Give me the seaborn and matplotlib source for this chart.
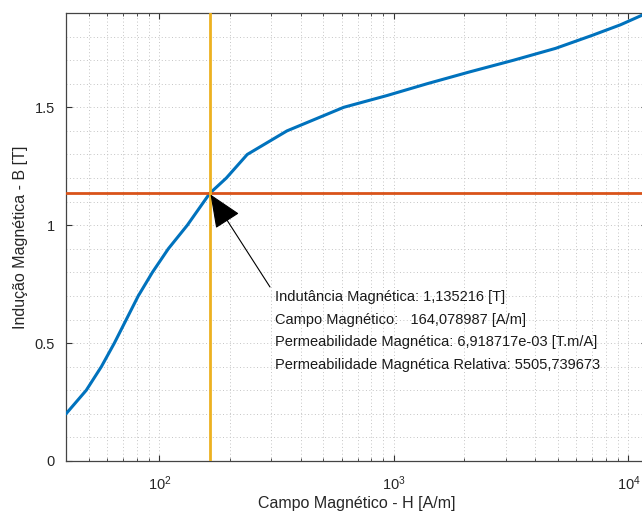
import numpy as np
import pandas as pd
import matplotlib
matplotlib.use("Agg")
import matplotlib.pyplot as plt
import seaborn as sns
from matplotlib.ticker import LogLocator, MultipleLocator, FixedLocator, NullFormatter

# ---- data ----
H_values = [40, 48.8, 56.6, 64.3, 72.3, 81.3, 93.4, 109.2, 131.6, 164, 193, 237, 350,
            611, 935, 1385, 2100, 3245, 4890, 7000, 9250, 12000]
B_values = [0.20, 0.30, 0.40, 0.50, 0.60, 0.70, 0.80, 0.90, 1.00, 1.135, 1.20,
            1.30, 1.40, 1.50, 1.55, 1.60, 1.65, 1.70, 1.75, 1.805, 1.85, 1.90]
H_point = 164.078987
B_point = 1.135216
y_ticks = [0, 0.5, 1, 1.5]
y_tick_labels = ["0", "0.5", "1", "1.5"]
info_lines = [
    "Indutância Magnética: 1,135216 [T]",
    "Campo Magnético:   164,078987 [A/m]",
    "Permeabilidade Magnética: 6,918717e-03 [T.m/A]",
    "Permeabilidade Magnética Relativa: 5505,739673",
]
x_label = "Campo Magnético - H [A/m]"
y_label = "Indução Magnética - B [T]"

df = pd.DataFrame({"H": H_values, "B": B_values})

sns.set_theme(style="white")
plt.rcParams["font.family"] = ["Liberation Sans", "DejaVu Sans"]
plt.rcParams["mathtext.fontset"] = "custom"
plt.rcParams["mathtext.rm"] = "Liberation Sans"
plt.rcParams["mathtext.it"] = "Liberation Sans"

W, Hpx = 642, 513
fig = plt.figure(figsize=(W / 100, Hpx / 100), dpi=100)
ax = fig.add_axes([66 / W, (Hpx - 461) / Hpx, (647 - 66) / W, (461 - 13) / Hpx])

sns.lineplot(data=df, x="H", y="B", ax=ax, color="#0072BD", linewidth=2.2,
             sort=False, estimator=None, zorder=3)
ax.axhline(B_point, color="#D95319", linewidth=2.0, zorder=4)
ax.axvline(H_point, color="#EDB120", linewidth=2.0, zorder=5)

ax.set_xscale("log")
ax.set_xlim(40, 12000)
ax.set_ylim(0, 1.9)

ax.yaxis.set_major_locator(FixedLocator(y_ticks))
ax.set_yticklabels(y_tick_labels)
ax.yaxis.set_minor_locator(MultipleLocator(0.1))
ax.xaxis.set_major_locator(LogLocator(base=10, numticks=10))
ax.xaxis.set_minor_locator(LogLocator(base=10, subs=np.arange(2, 10), numticks=20))
ax.xaxis.set_minor_formatter(NullFormatter())

gridkw = dict(color="#c4c4c4", linestyle=(0, (1, 2.5)), linewidth=0.7)
ax.grid(True, which="major", **gridkw)
ax.grid(True, which="minor", **gridkw)
ax.set_axisbelow(True)

for s in ax.spines.values():
    s.set_color("#444444")
    s.set_linewidth(0.9)

ax.tick_params(axis="both", which="major", direction="in", length=4.5, width=0.8,
               color="#333333", labelcolor="#262626", labelsize=10.5,
               top=True, right=True, bottom=True, left=True)
ax.tick_params(axis="x", which="minor", direction="in", length=2.5, width=0.6,
               color="#333333", top=True, bottom=True)
ax.tick_params(axis="y", which="minor", length=0)
ax.tick_params(axis="x", which="major", pad=10)
ax.tick_params(axis="y", which="major", pad=8)

ax.set_xlabel(x_label, fontsize=11.5, color="#262626", labelpad=2)
ax.set_ylabel(y_label, fontsize=11.5, color="#262626", labelpad=5)

# arrow from text block to the point
ax.annotate("", xy=(H_point, B_point), xycoords="data",
            xytext=(270 / W, 1 - 287 / Hpx), textcoords="figure fraction",
            arrowprops=dict(arrowstyle="-|>,head_length=1.4,head_width=0.6",
                            mutation_scale=15, color="black", lw=0.8,
                            shrinkA=0, shrinkB=1),
            zorder=6)

y0 = 297
for i, line in enumerate(info_lines):
    fig.text(275 / W, 1 - (y0 + i * 22.7) / Hpx, line, fontsize=10.5,
             color="#1a1a1a", ha="left", va="center")

fig.savefig("out.png", dpi=100)
